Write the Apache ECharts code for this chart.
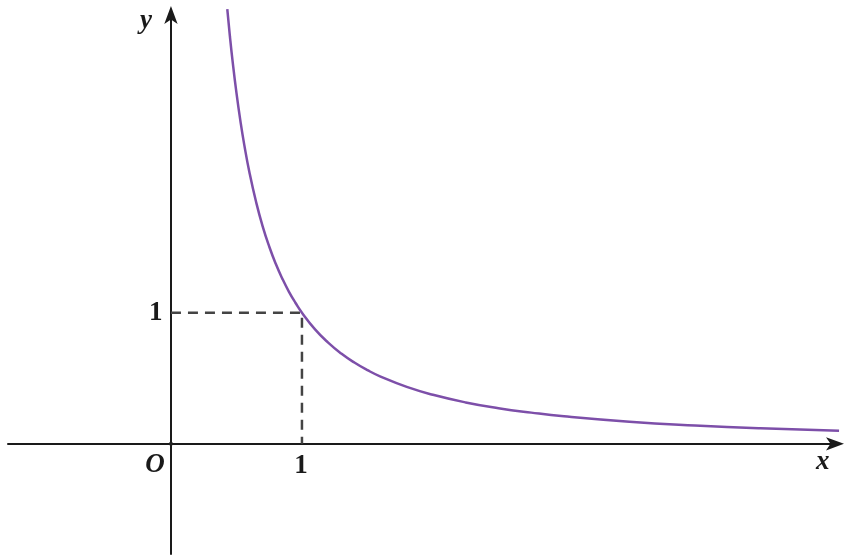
<!DOCTYPE html>
<html>
<head>
<meta charset="utf-8">
<script src="https://cdn.jsdelivr.net/npm/echarts@6/dist/echarts.min.js"></script>
<style>html,body{margin:0;padding:0;background:#fff}#c{width:854px;height:560px}</style>
</head>
<body>
<div id="c"></div>
<script>
// curve points
const curveX = [0.43, 0.45, 0.47, 0.5, 0.53, 0.56, 0.6, 0.65, 0.7, 0.75, 0.8, 0.85, 0.9, 0.95, 1, 1.1, 1.2, 1.3, 1.4, 1.5, 1.6, 1.8, 2, 2.25, 2.5, 2.75, 3, 3.5, 4, 4.5, 5.1];
const curveY = [3.315, 3.108, 2.922, 2.676, 2.463, 2.278, 2.065, 1.844, 1.659, 1.505, 1.373, 1.260, 1.161, 1.076, 1, 0.873, 0.772, 0.689, 0.620, 0.562, 0.513, 0.434, 0.374, 0.316, 0.272, 0.238, 0.210, 0.169, 0.140, 0.118, 0.099];
// dashed guide through (1,1)
const guideX = [0, 1, 1];
const guideY = [1, 1, 0];
const xTicks = [1];
const yTicks = [1];
const originLabel = 'O';

const chart = echarts.init(document.getElementById('c'), null, {renderer: 'canvas'});
const curve = curveX.map((x, i) => [x, curveY[i]]);
const guide = guideX.map((x, i) => [x, guideY[i]]);
const font = {fontFamily: 'Liberation Serif', fontWeight: 'bold', fontSize: 27, color: '#1a1a1a', opacity: 1};
const italic = Object.assign({}, font, {fontStyle: 'italic'});
const hidden = {color: 'rgba(0,0,0,0)', opacity: 1};
chart.setOption({
  animation: false,
  backgroundColor: '#fff',
  grid: {left: 8, right: 16, top: 12, bottom: 6, containLabel: false, outerBoundsMode: 'none'},
  xAxis: {
    type: 'value', min: -1.244, max: 5.092,
    splitLine: {show: false}, axisTick: {show: false}, axisLabel: {show: false},
    axisLine: {onZero: true, symbol: ['none', 'arrow'], symbolSize: [10, 18], symbolOffset: [0, 6], lineStyle: {color: '#1a1a1a', width: 2}}
  },
  yAxis: {
    type: 'value', min: -0.84, max: 3.293,
    splitLine: {show: false}, axisTick: {show: false}, axisLabel: {show: false},
    axisLine: {onZero: true, symbol: ['none', 'arrow'], symbolSize: [10, 18], symbolOffset: [0, 6], lineStyle: {color: '#1a1a1a', width: 2}}
  },
  series: [
    {
      type: 'line', data: guide, symbol: 'none', silent: true,
      lineStyle: {color: '#444', width: 2.5, type: [10, 7]}
    },
    {
      type: 'line', data: curve, smooth: true, symbol: 'none', clip: false,
      lineStyle: {color: '#7d4fa9', width: 2.5}
    },
    {
      type: 'scatter', data: [[0, 0]], symbolSize: 4, itemStyle: {color: '#222', opacity: 1},
      label: Object.assign({show: true, formatter: originLabel, position: 'bottom', offset: [-16, 1]}, italic)
    },
    {
      type: 'scatter', data: xTicks.map(v => [v, 0]), symbolSize: 1, itemStyle: hidden,
      label: Object.assign({show: true, formatter: p => String(p.value[0]), position: 'bottom', distance: 8, offset: [-1, 0]}, font)
    },
    {
      type: 'scatter', data: yTicks.map(v => [0, v]), symbolSize: 1, itemStyle: hidden,
      label: Object.assign({show: true, formatter: p => String(p.value[1]), position: 'left', distance: 8}, font)
    }
  ],
  graphic: [
    {type: 'text', left: 816, top: 449, style: {text: 'x', font: 'italic bold 27px "Liberation Serif"', fill: '#1a1a1a'}},
    {type: 'text', left: 140, top: 8, style: {text: 'y', font: 'italic bold 27px "Liberation Serif"', fill: '#1a1a1a'}}
  ]
});
</script>
</body>
</html>
